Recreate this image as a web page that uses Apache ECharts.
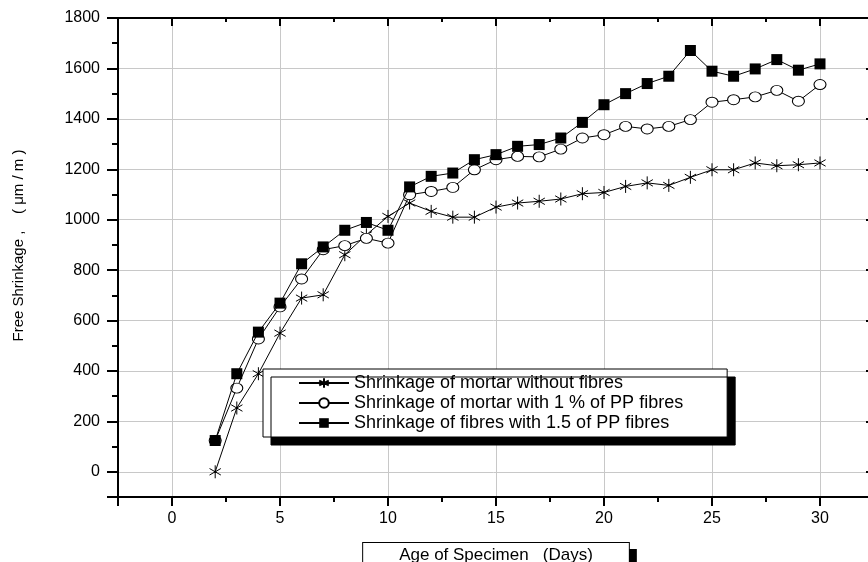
<!DOCTYPE html>
<html>
<head>
<meta charset="utf-8">
<script src="https://cdn.jsdelivr.net/npm/echarts@6/dist/echarts.min.js"></script>
<style>
  html, body { margin: 0; padding: 0; background: #fff; }
  #main { width: 868px; height: 562px; }
</style>
</head>
<body>
<div id="main"></div>
<script>
// days (age of specimen)
const days = [2, 3, 4, 5, 6, 7, 8, 9, 10, 11, 12, 13, 14, 15, 16, 17, 18, 19, 20,
  21, 22, 23, 24, 25, 26, 27, 28, 29, 30]
// free shrinkage, µm/m
const noFibres = [0, 253, 389, 550, 689, 702, 861, 940, 1013, 1066, 1033, 1010, 1010, 1050,
  1066, 1073, 1082, 1103, 1108, 1132, 1146, 1136, 1168, 1198, 1198, 1225, 1214, 1218, 1225]
const pp1 = [124, 332, 527, 654, 765, 881, 897, 926, 907, 1099, 1112, 1128, 1198, 1238,
  1251, 1249, 1280, 1324, 1337, 1370, 1360, 1370, 1397, 1466, 1476, 1487, 1513, 1470, 1536]
const pp15 = [124, 389, 554, 669, 825, 892, 958, 989, 958, 1130, 1172, 1185, 1238, 1258,
  1291, 1298, 1324, 1386, 1456, 1500, 1540, 1569, 1671, 1589, 1569, 1598, 1635, 1593, 1618]
const seriesNames = [
  'Shrinkage of mortar without fibres',
  'Shrinkage of mortar with 1 % of PP fibres',
  'Shrinkage of fibres with 1.5 of PP fibres'
]

const font = 'Liberation Sans, Arial, sans-serif'
const star = 'path://M0,-1L0,1M-0.87,-0.5L0.87,0.5M-0.87,0.5L0.87,-0.5M0.12,0A0.12,0.12,0,1,1,-0.12,0A0.12,0.12,0,1,1,0.12,0Z'

const pairs = (ys) => ys.map((v, i) => [days[i], v])

const baseSeries = {
  type: 'line',
  xAxisIndex: 0,
  yAxisIndex: 0,
  lineStyle: { color: '#000', width: 1 },
  animation: false
}

const option = {
  backgroundColor: '#fff',
  animation: false,
  grid: { left: 118, top: 18, width: 756, height: 479, outerBoundsMode: 'none' },
  legend: {
    orient: 'vertical',
    left: 263,
    top: 369,
    padding: [5, 44, 5, 35],
    itemGap: 2,
    itemWidth: 50,
    itemHeight: 12,
    backgroundColor: '#fff',
    borderColor: '#000',
    borderWidth: 1,
    borderRadius: 0,
    shadowColor: '#000',
    shadowBlur: 0,
    shadowOffsetX: 8,
    shadowOffsetY: 8,
    textStyle: { fontFamily: font, fontSize: 18, color: '#000', lineHeight: 18 },
    data: seriesNames
  },
  xAxis: [
    {
      type: 'value',
      min: -2.5,
      max: 32.5,
      splitNumber: 7,
      name: 'Age of Specimen   (Days)',
      nameLocation: 'middle',
      nameGap: 46,
      nameTextStyle: {
        fontFamily: font,
        fontSize: 17,
        color: '#000',
        backgroundColor: '#fff',
        borderColor: '#000',
        borderWidth: 1,
        padding: [4, 36, 8, 36],
        shadowColor: '#000',
        shadowBlur: 0,
        shadowOffsetX: 7,
        shadowOffsetY: 7
      },
      axisLine: { onZero: false, lineStyle: { color: '#000', width: 2 } },
      axisTick: { inside: false, length: 9, lineStyle: { color: '#000', width: 2 } },
      minorTick: { show: true, splitNumber: 2, length: 5, lineStyle: { color: '#000', width: 2 } },
      axisLabel: {
        fontFamily: font, fontSize: 16, color: '#000', margin: 14,
        formatter: (v) => (v % 5 === 0 ? String(v) : '')
      },
      splitLine: { show: true, lineStyle: { color: '#c8c8c8', width: 1 } }
    },
    {
      type: 'value',
      position: 'top',
      min: -2.5,
      max: 32.5,
      splitNumber: 7,
      axisLine: { onZero: false, lineStyle: { color: '#000', width: 2 } },
      axisTick: { inside: true, length: 8, lineStyle: { color: '#000', width: 2 } },
      minorTick: { show: true, splitNumber: 2, length: 4, lineStyle: { color: '#000', width: 2 } },
      axisLabel: { show: false },
      splitLine: { show: false }
    }
  ],
  yAxis: [
    {
      type: 'value',
      min: -100,
      max: 1800,
      splitNumber: 10,
      name: 'Free Shrinkage ,    ( μm / m )',
      nameLocation: 'middle',
      nameGap: 92,
      nameTextStyle: { fontFamily: font, fontSize: 15, color: '#000', padding: [0, 0, 0, 24] },
      axisLine: { onZero: false, lineStyle: { color: '#000', width: 2 } },
      axisTick: { inside: false, length: 11, lineStyle: { color: '#000', width: 2 } },
      minorTick: { show: true, splitNumber: 2, length: 6, lineStyle: { color: '#000', width: 2 } },
      axisLabel: {
        fontFamily: font, fontSize: 16, color: '#000', margin: 18,
        formatter: (v) => (v % 200 === 0 ? String(v) : '')
      },
      splitLine: { show: true, lineStyle: { color: '#c8c8c8', width: 1 } }
    },
    {
      type: 'value',
      position: 'right',
      min: -100,
      max: 1800,
      splitNumber: 10,
      axisLine: { show: true, onZero: false, lineStyle: { color: '#000', width: 2 } },
      axisTick: { show: true, inside: true, length: 8, lineStyle: { color: '#000', width: 2 } },
      minorTick: { show: true, splitNumber: 2, length: 4, lineStyle: { color: '#000', width: 2 } },
      axisLabel: { show: false },
      splitLine: { show: false }
    }
  ],
  series: [
    Object.assign({}, baseSeries, {
      name: seriesNames[0],
      data: pairs(noFibres),
      symbol: star,
      symbolSize: 13,
      symbolKeepAspect: true,
      itemStyle: { color: '#000', borderColor: '#000', borderWidth: 1 },
      z: 3
    }),
    Object.assign({}, baseSeries, {
      name: seriesNames[1],
      data: pairs(pp1),
      symbol: 'circle',
      symbolSize: [12, 10],
      itemStyle: { color: '#fff', borderColor: '#000', borderWidth: 1 },
      z: 4
    }),
    Object.assign({}, baseSeries, {
      name: seriesNames[2],
      data: pairs(pp15),
      symbol: 'rect',
      symbolSize: 11,
      itemStyle: { color: '#000', borderColor: '#000', borderWidth: 0 },
      z: 5
    })
  ]
}

const myChart = echarts.init(document.getElementById('main'))
myChart.setOption(option)
window.addEventListener('resize', () => {
  myChart.resize()
})
</script>
</body>
</html>
